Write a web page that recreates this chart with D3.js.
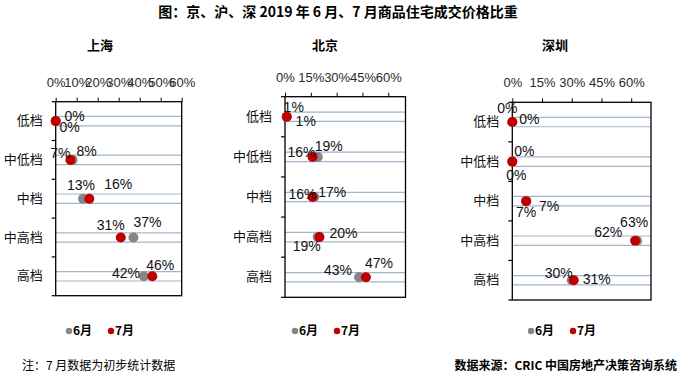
<!DOCTYPE html>
<html>
<head>
<meta charset="utf-8">
<script src="https://cdn.jsdelivr.net/npm/d3@7"></script>
<style>
  body { margin: 0; background: #fff; }
  svg { display: block; }
</style>
</head>
<body>
<div id="chart"></div>
<script>
// categories and values (percent)
const categories = ['低档', '中低档', '中档', '中高档', '高档'];
const months = ['6月', '7月'];

const shanghaiJune = [0, 8, 13, 37, 42];
const shanghaiJuly = [0, 7, 16, 31, 46];
const beijingJune = [1, 19, 17, 19, 43];
const beijingJuly = [1, 16, 16, 20, 47];
const shenzhenJune = [0, 0, 7, 63, 30];
const shenzhenJuly = [0, 0, 7, 62, 31];

const shanghaiTicks = [0, 10, 20, 30, 40, 50, 60];
const beijingTicks = [0, 15, 30, 45, 60];
const shenzhenTicks = [0, 15, 30, 45, 60];

// layout of each panel (box + data label offsets, Excel style)
const panels = [
    {
        name: '上海', june: shanghaiJune, july: shanghaiJuly, ticks: shanghaiTicks, max: 60,
        box: { left: 55.7, right: 181.7, top: 101.7, bottom: 295.7 }, titleX: 100, legendX: 69,
        juneOff: [[19, -5], [14, -9], [-2, -14], [14, -16], [-18, -3]],
        julyOff: [[14, 6], [-10, -7], [29, -15], [-10, -13], [8, -11]]
    },
    {
        name: '北京', june: beijingJune, july: beijingJuly, ticks: beijingTicks, max: 70,
        box: { left: 285, right: 405.5, top: 96.7, bottom: 297.3 }, titleX: 325, legendX: 295,
        juneOff: [[7, -10], [11, -11], [18, -5], [-11, 9], [-21, -7]],
        julyOff: [[19, 4], [-11, -5], [-10, -3], [24, -4], [13, -14]]
    },
    {
        name: '深圳', june: shenzhenJune, july: shenzhenJuly, ticks: shenzhenTicks, max: 70,
        box: { left: 512.3, right: 651, top: 102.3, bottom: 300 }, titleX: 555, legendX: 531,
        juneOff: [[-5, -14], [12, -11], [23, 5], [-3, -19], [-13, -7]],
        julyOff: [[17, -3], [4, 13], [0, 11], [-27, -9], [23, -1]]
    }
];

const colors = { june: '#868686', july: '#c00000' };
const cjk = '"Noto Sans CJK SC", "Microsoft YaHei", sans-serif';
const latin = '"Liberation Sans", Arial, sans-serif';

const svg = d3.select('#chart')
    .append('svg')
    .attr('width', 685)
    .attr('height', 376);

// main title
svg.append('text')
    .attr('x', 338)
    .attr('y', 17)
    .attr('text-anchor', 'middle')
    .style('font-family', cjk)
    .style('font-weight', 'bold')
    .style('font-size', '14px')
    .text('图：京、沪、深 2019 年 6 月、7 月商品住宅成交价格比重');

panels.forEach(p => {
    const b = p.box;

    const x = d3.scaleLinear()
        .domain([0, p.max])
        .range([b.left, b.right]);

    const y = d3.scaleBand()
        .domain(categories)
        .range([b.top, b.bottom])
        .padding(0);

    const g = svg.append('g');

    // panel title
    g.append('text')
        .attr('x', p.titleX)
        .attr('y', 50)
        .attr('text-anchor', 'middle')
        .style('font-family', cjk)
        .style('font-weight', 'bold')
        .style('font-size', '13px')
        .text(p.name);

    // two grid lines per category
    categories.forEach(c => {
        const cy = y(c) + y.bandwidth() / 2;
        [-4.7, 4.7].forEach(o => {
            g.append('line')
                .attr('x1', b.left).attr('x2', b.right)
                .attr('y1', cy + o).attr('y2', cy + o)
                .attr('stroke', '#a3b5ca')
                .attr('stroke-width', 1.2);
        });
    });

    // box
    g.append('rect')
        .attr('x', b.left).attr('y', b.top)
        .attr('width', b.right - b.left).attr('height', b.bottom - b.top)
        .attr('fill', 'none')
        .attr('stroke', '#000')
        .attr('stroke-width', 1.3);

    // top axis
    const xAxis = g.append('g')
        .attr('transform', `translate(0,${b.top})`)
        .call(d3.axisTop(x)
            .tickValues(p.ticks)
            .tickSize(4)
            .tickSizeOuter(0)
            .tickPadding(11)
            .tickFormat(d => d + '%'));
    xAxis.select('.domain').remove();
    xAxis.selectAll('line').attr('stroke', '#000');
    xAxis.selectAll('text')
        .attr('fill', '#2a2a2a')
        .style('font-family', latin)
        .style('font-size', '13px');

    // left axis: category labels
    const yAxis = g.append('g')
        .attr('transform', `translate(${b.left},0)`)
        .call(d3.axisLeft(y).tickSize(0).tickPadding(13));
    yAxis.select('.domain').remove();
    yAxis.selectAll('text')
        .attr('fill', '#111')
        .style('font-family', cjk)
        .style('font-size', '13px');

    // category boundary ticks
    const edges = categories.map(c => y(c)).concat([b.bottom]);
    g.selectAll('.edge')
        .data(edges)
        .enter()
        .append('line')
        .attr('x1', b.left - 4).attr('x2', b.left)
        .attr('y1', d => d).attr('y2', d => d)
        .attr('stroke', '#000')
        .attr('stroke-width', 1.2);

    // dots: June below, July on top
    const series = [
        { values: p.june, color: colors.june, off: p.juneOff },
        { values: p.july, color: colors.july, off: p.julyOff }
    ];

    series.forEach(s => {
        g.selectAll(null)
            .data(s.values)
            .enter()
            .append('circle')
            .attr('cx', d => x(d))
            .attr('cy', (d, i) => y(categories[i]) + y.bandwidth() / 2)
            .attr('r', 5)
            .attr('fill', s.color);
    });

    series.forEach(s => {
        g.selectAll(null)
            .data(s.values)
            .enter()
            .append('text')
            .attr('x', (d, i) => x(d) + s.off[i][0])
            .attr('y', (d, i) => y(categories[i]) + y.bandwidth() / 2 + s.off[i][1])
            .attr('dy', '0.36em')
            .attr('text-anchor', 'middle')
            .attr('fill', '#111')
            .style('font-family', latin)
            .style('font-size', '14px')
            .text(d => d + '%');
    });

    // legend
    const lg = g.append('g').attr('transform', `translate(${p.legendX},331)`);
    months.forEach((m, i) => {
        const ox = i * 42;
        lg.append('circle')
            .attr('cx', ox).attr('cy', 0).attr('r', 3.2)
            .attr('fill', i === 0 ? colors.june : colors.july);
        lg.append('text')
            .attr('x', ox + 4).attr('y', 0)
            .attr('dy', '0.36em')
            .style('font-family', cjk)
            .style('font-weight', 'bold')
            .style('font-size', '12px')
            .text(m);
    });
});

// footnotes
svg.append('text')
    .attr('x', 22).attr('y', 370)
    .style('font-family', cjk)
    .style('font-size', '12px')
    .text('注：7 月数据为初步统计数据');

svg.append('text')
    .attr('x', 677).attr('y', 370)
    .attr('text-anchor', 'end')
    .style('font-family', cjk)
    .style('font-weight', 'bold')
    .style('font-size', '12px')
    .text('数据来源：CRIC 中国房地产决策咨询系统');
</script>
</body>
</html>
